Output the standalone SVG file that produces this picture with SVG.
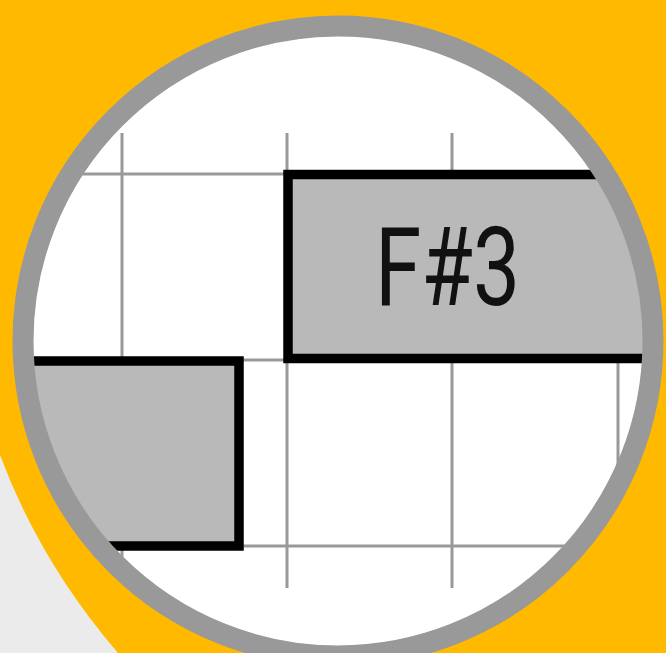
<svg xmlns="http://www.w3.org/2000/svg" width="666" height="653" viewBox="0 0 666 653">
  <defs>
    <clipPath id="lens">
      <circle cx="338" cy="341" r="305"/>
    </clipPath>
    <style>
      .grid { stroke: #999999; stroke-width: 3; fill: none; }
      .note { fill: #B9B9B9; stroke: #000000; stroke-width: 9.5; }
      .label { font-family: Roboto, "DejaVu Sans", "Liberation Sans", sans-serif; font-weight: 400; font-size: 110px; fill: #111111; }
    </style>
  </defs>
  <rect x="0" y="0" width="666" height="653" fill="#FFB900"/>
  <path d="M0,455 Q40,562 118,653 L0,653 Z" fill="#EBEBEB"/>
  <circle cx="338" cy="341" r="305" fill="#FFFFFF"/>
  <g clip-path="url(#lens)">
    <g id="grid">
      <line class="grid" x1="0" y1="174" x2="666" y2="174"/>
      <line class="grid" x1="0" y1="360" x2="666" y2="360"/>
      <line class="grid" x1="0" y1="546" x2="666" y2="546"/>
      <line class="grid" x1="122" y1="133" x2="122" y2="588"/>
      <line class="grid" x1="287" y1="133" x2="287" y2="588"/>
      <line class="grid" x1="452" y1="133" x2="452" y2="588"/>
      <line class="grid" x1="618" y1="133" x2="618" y2="588"/>
    </g>
    <g id="note-left">
      <rect class="note" x="-20" y="361" width="259" height="185"/>
    </g>
    <g id="note-fs3">
      <rect class="note" x="288" y="174.5" width="420" height="184"/>
      <text class="label" x="447.5" y="305" text-anchor="middle" textLength="145" lengthAdjust="spacingAndGlyphs">F#3</text>
    </g>
  </g>
  <circle cx="338" cy="341" r="315" fill="none" stroke="#999999" stroke-width="21"/>
</svg>
